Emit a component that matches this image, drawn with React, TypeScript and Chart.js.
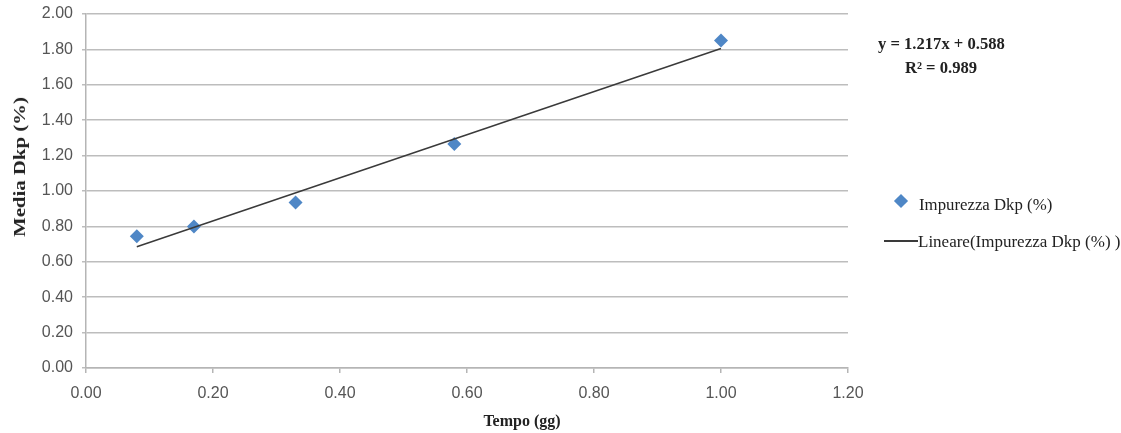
import React, { useEffect, useRef } from "react";
import { Chart, registerables } from "chart.js";

Chart.register(...registerables);

const timeValues = [0.08, 0.17, 0.33, 0.58, 1.0];
const dkpValues = [0.745, 0.8, 0.935, 1.265, 1.85];
const trendX = [0.08, 1.0];
const trendY = [0.685, 1.805];
const seriesName = "Impurezza Dkp (%)";
const trendName = "Lineare(Impurezza Dkp (%) )";
const equationText = "y = 1.217x + 0.588";
const r2Text = "R² = 0.989";
const xTitle = "Tempo (gg)";
const yTitle = "Media Dkp (%)";

const W = 1121;
const H = 433;
const serif = '"Liberation Serif", "Times New Roman", serif';
const sans = '"Liberation Sans", Arial, sans-serif';

export default function App() {
  const ref = useRef<HTMLCanvasElement | null>(null);

  useEffect(() => {
    if (!ref.current) return;
    const chart = new Chart(ref.current, {
      type: "scatter",
      data: {
        datasets: [
          {
            label: seriesName,
            data: timeValues.map((x, i) => ({ x, y: dkpValues[i] })),
            pointStyle: "rectRot",
            pointRadius: 7,
            pointHoverRadius: 7,
            backgroundColor: "#4F87C6",
            borderColor: "#4F87C6",
            borderWidth: 0,
            showLine: false,
            order: 1,
          },
          {
            label: trendName,
            type: "line",
            data: trendX.map((x, i) => ({ x, y: trendY[i] })),
            borderColor: "#3a3a3a",
            borderWidth: 1.5,
            pointRadius: 0,
            showLine: true,
            fill: false,
            order: 0,
          } as any,
        ],
      },
      options: {
        responsive: false,
        animation: false,
        layout: { padding: { left: 0, top: 14, right: 273, bottom: 0 } },
        plugins: {
          legend: { display: false },
          tooltip: { enabled: false },
          title: { display: false },
        },
        scales: {
          x: {
            type: "linear",
            min: 0,
            max: 1.2,
            afterFit: (s: any) => {
              s.height = 65;
            },
            ticks: {
              stepSize: 0.2,
              padding: 11,
              color: "#555555",
              font: { family: sans, size: 16 },
              callback: (v: any) => Number(v).toFixed(2),
            },
            grid: {
              drawOnChartArea: false,
              drawTicks: true,
              tickLength: 5,
              color: "#b5b5b5",
              lineWidth: 1.5,
            },
            border: { display: true, color: "#b5b5b5", width: 1.5 },
          },
          y: {
            type: "linear",
            min: 0,
            max: 2,
            afterFit: (s: any) => {
              s.width = 86;
              s.paddingTop = 0;
              s.paddingBottom = 0;
            },
            ticks: {
              stepSize: 0.2,
              padding: 9,
              color: "#555555",
              font: { family: sans, size: 16 },
              callback: (v: any) => Number(v).toFixed(2),
            },
            grid: {
              drawOnChartArea: true,
              drawTicks: true,
              tickLength: 4,
              color: "#bdbdbd",
              lineWidth: 1.5,
            },
            border: { display: true, color: "#b5b5b5", width: 1.5 },
          },
        },
      },
    });
    return () => chart.destroy();
  }, []);

  return (
    <div
      style={{
        position: "fixed",
        left: 0,
        top: 0,
        width: W,
        height: H,
        background: "#ffffff",
        overflow: "hidden",
      }}
    >
      <canvas ref={ref} width={W} height={H} style={{ display: "block" }} />
      <div
        style={{
          position: "absolute",
          left: 20,
          top: 167,
          transform: "translate(-50%, -50%) rotate(-90deg) scaleX(1.3)",
          whiteSpace: "nowrap",
          fontFamily: serif,
          fontWeight: "bold",
          fontSize: 16,
          color: "#222",
        }}
      >
        {yTitle}
      </div>
      <div
        style={{
          position: "absolute",
          left: 522,
          top: 421,
          transform: "translate(-50%, -50%)",
          whiteSpace: "nowrap",
          fontFamily: serif,
          fontWeight: "bold",
          fontSize: 16,
          color: "#222",
        }}
      >
        {xTitle}
      </div>
      <div
        style={{
          position: "absolute",
          left: 878,
          top: 44,
          transform: "translateY(-50%)",
          whiteSpace: "nowrap",
          fontFamily: serif,
          fontWeight: "bold",
          fontSize: 16.6,
          color: "#222",
        }}
      >
        {equationText}
      </div>
      <div
        style={{
          position: "absolute",
          left: 905,
          top: 68,
          transform: "translateY(-50%)",
          whiteSpace: "nowrap",
          fontFamily: serif,
          fontWeight: "bold",
          fontSize: 16.6,
          color: "#222",
        }}
      >
        {r2Text}
      </div>
      <div
        style={{
          position: "absolute",
          left: 896,
          top: 196,
          width: 10,
          height: 10,
          background: "#4F87C6",
          transform: "rotate(45deg)",
        }}
      />
      <div
        style={{
          position: "absolute",
          left: 919,
          top: 205,
          transform: "translateY(-50%)",
          whiteSpace: "nowrap",
          fontFamily: serif,
          fontSize: 16.8,
          color: "#222",
        }}
      >
        {seriesName}
      </div>
      <div
        style={{
          position: "absolute",
          left: 884,
          top: 240,
          width: 34,
          height: 1.5,
          background: "#3a3a3a",
        }}
      />
      <div
        style={{
          position: "absolute",
          left: 918,
          top: 242,
          transform: "translateY(-50%)",
          whiteSpace: "nowrap",
          fontFamily: serif,
          fontSize: 17,
          color: "#222",
        }}
      >
        {trendName}
      </div>
    </div>
  );
}
